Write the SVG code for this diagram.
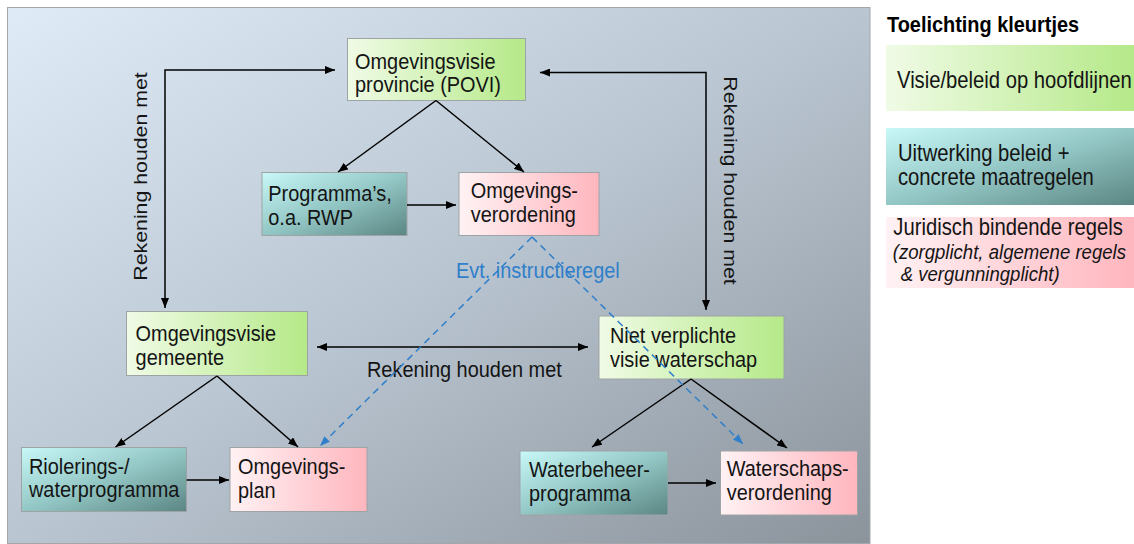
<svg xmlns="http://www.w3.org/2000/svg" width="1134" height="544" viewBox="0 0 1134 544">
<style>
.t{font-family:"Liberation Sans",Arial,sans-serif;font-size:22.5px;fill:#141414}
.lg{font-family:"Liberation Sans",Arial,sans-serif;font-size:23px;fill:#141414}
.it{font-family:"Liberation Sans",Arial,sans-serif;font-size:21px;font-style:italic;fill:#141414}
.ttl{font-family:"Liberation Sans",Arial,sans-serif;font-size:22.5px;font-weight:bold;fill:#000}
.rot{font-family:"Liberation Sans",Arial,sans-serif;font-size:21.3px;fill:#141414;text-anchor:middle}
.blue{font-family:"Liberation Sans",Arial,sans-serif;font-size:22.5px;fill:#2f7fca}
.box{stroke:#9ea4a6;stroke-width:1}
.green{fill:url(#gGreen)}
.teal{fill:url(#gTeal)}
.pink{fill:url(#gPink)}
.ln{fill:none;stroke:#000;stroke-width:1.5;marker-end:url(#ah)}
.dbl{fill:none;stroke:#000;stroke-width:1.5;marker-start:url(#ah);marker-end:url(#ah)}
.bl{fill:none;stroke:#2f7fca;stroke-width:1.5;stroke-dasharray:7 5;marker-end:url(#bh)}
</style>
<defs>
<linearGradient id="gBg" x1="0" y1="0" x2="1" y2="1">
<stop offset="0" stop-color="#dfebf7"/>
<stop offset="0.5" stop-color="#b9c5d1"/>
<stop offset="1" stop-color="#8b939b"/>
</linearGradient>
<linearGradient id="gGreen" x1="0" y1="0" x2="1" y2="0">
<stop offset="0" stop-color="#f0fbe6"/>
<stop offset="1" stop-color="#b5e988"/>
</linearGradient>
<linearGradient id="gTeal" x1="0" y1="0" x2="1" y2="1">
<stop offset="0" stop-color="#c8f8f8"/>
<stop offset="0.5" stop-color="#93c7c5"/>
<stop offset="1" stop-color="#5b8683"/>
</linearGradient>
<linearGradient id="gPink" x1="0" y1="0" x2="1" y2="0">
<stop offset="0" stop-color="#fff2f4"/>
<stop offset="1" stop-color="#ffb6be"/>
</linearGradient>
<marker id="ah" markerUnits="userSpaceOnUse" markerWidth="10" markerHeight="8" refX="10" refY="4" orient="auto-start-reverse">
<path d="M0,0 L10,4 L0,8 z" fill="#000"/>
</marker>
<marker id="bh" markerUnits="userSpaceOnUse" markerWidth="10" markerHeight="8" refX="10" refY="4" orient="auto">
<path d="M0,0 L10,4 L0,8 z" fill="#2f7fca"/>
</marker>
</defs>
<rect id="panel" x="7.5" y="7.5" width="862.5" height="536" fill="url(#gBg)" stroke="#a3a7ab" stroke-width="1"/>

<g id="povi">
<rect class="box green" x="347.5" y="38.5" width="178" height="62"/>
<text class="t" transform="matrix(0.885 0 0 1 355 68.5)"><tspan x="0" y="0">Omgevingsvisie</tspan><tspan x="0" y="24">provincie (POVI)</tspan></text>
</g>
<g id="programmas">
<rect class="box teal" x="262" y="172.5" width="145" height="63"/>
<text class="t" transform="matrix(0.885 0 0 1 268.3 200.5)"><tspan x="0" y="0">Programma’s,</tspan><tspan x="0" y="24.5">o.a. RWP</tspan></text>
</g>
<g id="omgevingsverordening">
<rect class="box pink" x="459" y="172.5" width="140" height="63"/>
<text class="t" transform="matrix(0.885 0 0 1 470.7 197.5)"><tspan x="0" y="0">Omgevings-</tspan><tspan x="0" y="25">verordening</tspan></text>
</g>
<g id="visie-gemeente">
<rect class="box green" x="126.5" y="311.5" width="181" height="64"/>
<text class="t" transform="matrix(0.885 0 0 1 135.6 341)"><tspan x="0" y="0">Omgevingsvisie</tspan><tspan x="0" y="24">gemeente</tspan></text>
</g>
<g id="visie-waterschap">
<rect class="box green" x="599" y="316" width="185" height="63"/>
<text class="t" transform="matrix(0.885 0 0 1 610 343.3)"><tspan x="0" y="0">Niet verplichte</tspan><tspan x="0" y="23.7">visie waterschap</tspan></text>
</g>
<g id="riolering">
<rect class="box teal" x="21.5" y="447.5" width="165" height="64"/>
<text class="t" transform="matrix(0.885 0 0 1 29 473.5)"><tspan x="0" y="0">Riolerings-/</tspan><tspan x="0" y="24">waterprogramma</tspan></text>
</g>
<g id="omgevingsplan">
<rect class="box pink" x="230" y="447.5" width="137" height="64"/>
<text class="t" transform="matrix(0.885 0 0 1 238 474)"><tspan x="0" y="0">Omgevings-</tspan><tspan x="0" y="24">plan</tspan></text>
</g>
<g id="waterbeheer">
<rect class="box teal" x="520" y="451" width="148" height="64"/>
<text class="t" transform="matrix(0.885 0 0 1 529 477)"><tspan x="0" y="0">Waterbeheer-</tspan><tspan x="0" y="24">programma</tspan></text>
</g>
<g id="waterschapsverordening">
<rect class="box pink" x="720.5" y="451" width="137" height="64"/>
<text class="t" transform="matrix(0.885 0 0 1 726.7 476)"><tspan x="0" y="0">Waterschaps-</tspan><tspan x="0" y="24">verordening</tspan></text>
</g>

<g id="connectors">
<path class="dbl" d="M165,308 V70 H335"/>
<path class="dbl" d="M540,72.5 H706 V310"/>
<path class="ln" d="M436,100.5 L338,172"/>
<path class="ln" d="M436,100.5 L524,172"/>
<path class="ln" d="M407,205 L456,205"/>
<path class="dbl" d="M317,347 H588"/>
<path class="ln" d="M217,376 L115.5,447"/>
<path class="ln" d="M217,376 L298,447"/>
<path class="ln" d="M186.5,480 L229,480"/>
<path class="ln" d="M691,379 L592,447"/>
<path class="ln" d="M691,379 L787,448"/>
<path class="ln" d="M668,483 L716,483"/>
<text class="rot" transform="translate(147 176.5) scale(0.87 1) rotate(-90)">Rekening houden met</text>
<text class="rot" transform="translate(724 180.5) scale(0.87 1) rotate(90)">Rekening houden met</text>
<text class="t" transform="matrix(0.885 0 0 1 367 376.5)">Rekening houden met</text>
<text class="blue" transform="matrix(0.885 0 0 1 456 278.3)">Evt. instructieregel</text>
<path class="bl" d="M532,237 L320,446"/>
<path class="bl" d="M532,237 L743,444"/>
</g>

<g id="legend">
<text class="ttl" transform="matrix(0.885 0 0 1 887 31.5)">Toelichting kleurtjes</text>
<rect class="green" x="886" y="45" width="248" height="66"/>
<text class="lg" transform="matrix(0.88 0 0 1 897 87.5)">Visie/beleid op hoofdlijnen</text>
<rect class="teal" x="886" y="128" width="248" height="77"/>
<text class="lg" transform="matrix(0.88 0 0 1 898 160.5)"><tspan x="0" y="0">Uitwerking beleid +</tspan><tspan x="0" y="24.5">concrete maatregelen</tspan></text>
<rect class="pink" x="886" y="217" width="248" height="71"/>
<text class="lg" transform="matrix(0.88 0 0 1 893.3 235)">Juridisch bindende regels</text>
<text class="it" transform="matrix(0.885 0 0 1 892.7 259)"><tspan x="0" y="0">(zorgplicht, algemene regels</tspan><tspan x="9" y="22">&amp; vergunningplicht)</tspan></text>
</g>
</svg>
